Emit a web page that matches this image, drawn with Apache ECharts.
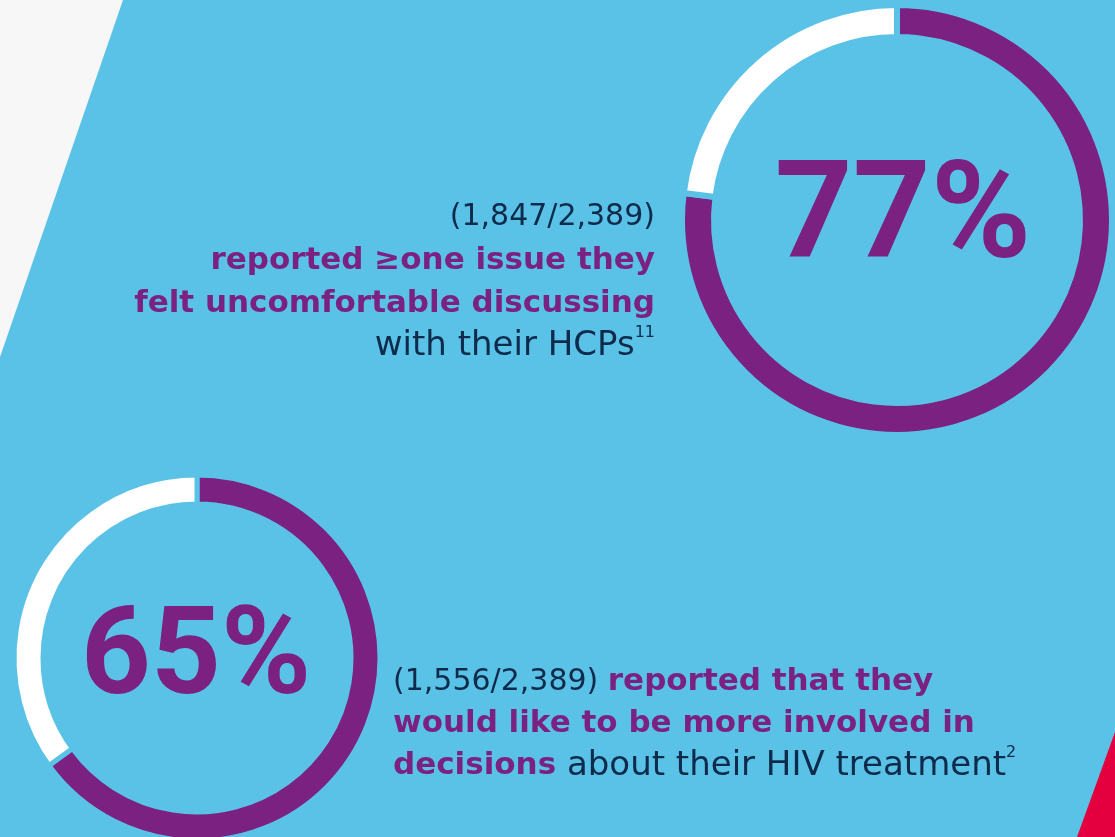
<!DOCTYPE html>
<html><head><meta charset="utf-8">
<script src="https://cdn.jsdelivr.net/npm/echarts@6/dist/echarts.min.js"></script>
<style>html,body{margin:0;padding:0;background:#5BC2E7}#c{width:1115px;height:837px}</style>
</head><body><div id="c"></div>
<script>
// Data
const statNames = ['Uncomfortable discussing issues', 'Want more involvement'];
const percentages = [77, 65];
const counts = ['1,847/2,389', '1,556/2,389'];
const refs = ['11', '2'];

const PURPLE = '#7B2181', NAVY = '#0E2B4B', BG = '#5BC2E7', WHITE = '#FFFFFF';
const chart = echarts.init(document.getElementById('c'), null, {renderer: 'canvas'});

function donut(pct, center, radius, bw) {
  return {
    type: 'pie', center: center, radius: radius, startAngle: 90, clockwise: true,
    silent: true, animation: false, label: {show: false}, labelLine: {show: false},
    emphasis: {disabled: true},
    itemStyle: {borderColor: BG, borderWidth: bw},
    data: [
      {value: pct, itemStyle: {color: PURPLE}},
      {value: 100 - pct, itemStyle: {color: WHITE}}
    ]
  };
}

const bodyFont = 'DejaVu Sans';
function makeRich(lh) {
  return {
    c: {fontFamily: bodyFont, fontSize: 30, fill: NAVY, lineHeight: lh},
    n: {fontFamily: bodyFont, fontSize: 34, fill: NAVY, lineHeight: lh},
    b: {fontFamily: bodyFont, fontSize: 31, fontWeight: 'bold', fill: PURPLE, lineHeight: lh},
    s: {fontFamily: bodyFont, fontSize: 16, fill: NAVY, lineHeight: lh, verticalAlign: 'top', padding: [0,0,14,0]}
  };
}

chart.setOption({
  backgroundColor: BG,
  graphic: [
    {type: 'polygon', shape: {points: [[0,0],[123,0],[0,357]]}, style: {fill: '#F7F7F7'}, silent: true},
    {type: 'polygon', shape: {points: [[1115,732],[1115,837],[1077,837]]}, style: {fill: '#E4003F'}, silent: true},
    {type: 'text', x: 903, y: 223, silent: true, style: {
      text: percentages[0] + '%', fontFamily: 'Roboto', fontWeight: 'bold', fontSize: 136,
      fill: PURPLE, align: 'center', verticalAlign: 'middle'}},
    {type: 'text', x: 196, y: 662, silent: true, style: {
      text: percentages[1] + '%', fontFamily: 'Roboto', fontWeight: 'bold', fontSize: 122,
      fill: PURPLE, align: 'center', verticalAlign: 'middle'}},
    {type: 'text', x: 655, y: 196, silent: true, style: {
      text: '{c|(' + counts[0] + ')}\n{b|reported ≥one issue they}\n{b|felt uncomfortable discussing}\n{n|with their HCPs}{s|' + refs[0] + '}',
      rich: makeRich(43), align: 'right', verticalAlign: 'top'}},
    {type: 'text', x: 393, y: 661, silent: true, style: {
      text: '{c|(' + counts[1] + ') }{b|reported that they}\n{b|would like to be more involved in}\n{b|decisions}{n| about their HIV treatment}{s|' + refs[1] + '}',
      rich: makeRich(42), align: 'left', verticalAlign: 'top'}}
  ],
  series: [
    donut(percentages[0], [897, 220], [183, 215], 6),
    donut(percentages[1], [197, 658], [154, 183], 5)
  ]
});
</script></body></html>
